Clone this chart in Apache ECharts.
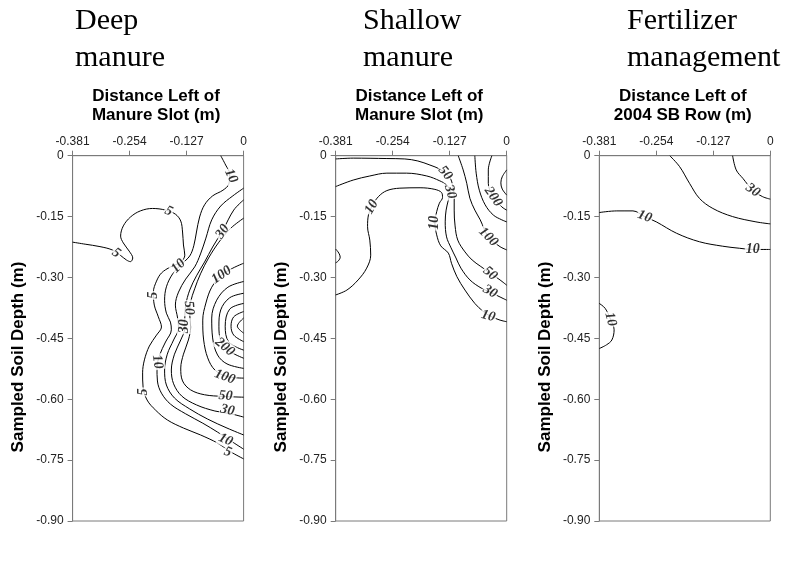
<!DOCTYPE html>
<html>
<head>
<meta charset="utf-8">
<script src="https://cdn.jsdelivr.net/npm/echarts@6/dist/echarts.min.js"></script>
<style>
html, body { margin: 0; padding: 0; background: #fff; }
#chart { width: 793px; height: 567px; }
</style>
</head>
<body>
<div id="chart"></div>
<script>
// axis ticks (m)
const xTicks = [-0.381, -0.254, -0.127, 0];
const yTicks = [0, -0.15, -0.30, -0.45, -0.60, -0.75, -0.90];

// Deep manure contours [distance, depth]
const deep5 = [[-0.381,-0.213],[-0.353,-0.218],[-0.320,-0.224],[-0.293,-0.232],[-0.275,-0.245],[-0.261,-0.257],[-0.252,-0.261],[-0.247,-0.252],[-0.255,-0.235],[-0.268,-0.215],[-0.274,-0.198],[-0.268,-0.173],[-0.252,-0.151],[-0.230,-0.136],[-0.203,-0.130],[-0.174,-0.134],[-0.152,-0.144],[-0.140,-0.161],[-0.136,-0.188],[-0.134,-0.220],[-0.131,-0.245],[-0.140,-0.262],[-0.163,-0.274],[-0.183,-0.289],[-0.194,-0.309],[-0.201,-0.336],[-0.199,-0.368],[-0.190,-0.397],[-0.183,-0.422],[-0.194,-0.442],[-0.210,-0.469],[-0.221,-0.503],[-0.225,-0.535],[-0.224,-0.570],[-0.215,-0.602],[-0.196,-0.627],[-0.170,-0.651],[-0.134,-0.671],[-0.096,-0.688],[-0.058,-0.708],[-0.028,-0.730],[0,-0.747]];
const deep10 = [[-0.051,0],[-0.040,-0.023],[-0.031,-0.045],[-0.033,-0.070],[-0.046,-0.085],[-0.069,-0.099],[-0.087,-0.121],[-0.098,-0.151],[-0.105,-0.188],[-0.111,-0.222],[-0.120,-0.247],[-0.138,-0.267],[-0.158,-0.291],[-0.172,-0.323],[-0.176,-0.356],[-0.172,-0.388],[-0.163,-0.410],[-0.161,-0.429],[-0.174,-0.459],[-0.187,-0.491],[-0.193,-0.523],[-0.192,-0.555],[-0.183,-0.585],[-0.163,-0.612],[-0.129,-0.636],[-0.091,-0.659],[-0.058,-0.681],[-0.028,-0.703],[0,-0.723]];
const deep20 = [[0,-0.080],[-0.024,-0.099],[-0.051,-0.124],[-0.071,-0.158],[-0.084,-0.203],[-0.096,-0.242],[-0.109,-0.274],[-0.129,-0.304],[-0.145,-0.336],[-0.152,-0.368],[-0.147,-0.400],[-0.145,-0.425],[-0.156,-0.454],[-0.170,-0.489],[-0.176,-0.528],[-0.172,-0.565],[-0.154,-0.597],[-0.120,-0.624],[-0.080,-0.649],[-0.037,-0.671],[0,-0.688]];
const deep30 = [[0,-0.109],[-0.022,-0.134],[-0.046,-0.183],[-0.069,-0.225],[-0.087,-0.262],[-0.105,-0.296],[-0.120,-0.331],[-0.129,-0.368],[-0.131,-0.400],[-0.131,-0.425],[-0.140,-0.454],[-0.154,-0.489],[-0.161,-0.528],[-0.156,-0.562],[-0.138,-0.592],[-0.105,-0.614],[-0.064,-0.629],[-0.028,-0.636],[0,-0.644]];
const deep50 = [[0,-0.154],[-0.028,-0.178],[-0.055,-0.213],[-0.078,-0.252],[-0.096,-0.291],[-0.109,-0.328],[-0.118,-0.360],[-0.120,-0.392],[-0.118,-0.422],[-0.123,-0.454],[-0.134,-0.489],[-0.140,-0.523],[-0.136,-0.555],[-0.118,-0.577],[-0.087,-0.589],[-0.046,-0.593],[0,-0.595]];
const deep100 = [[0,-0.265],[-0.024,-0.277],[-0.049,-0.294],[-0.071,-0.324],[-0.084,-0.363],[-0.091,-0.405],[-0.089,-0.454],[-0.080,-0.498],[-0.064,-0.528],[-0.037,-0.544],[0,-0.548]];
const deep150 = [[0,-0.310],[-0.035,-0.324],[-0.060,-0.356],[-0.071,-0.400],[-0.069,-0.449],[-0.058,-0.491],[-0.037,-0.513],[0,-0.524]];
const deep200 = [[0,-0.339],[-0.031,-0.350],[-0.051,-0.380],[-0.055,-0.420],[-0.051,-0.456],[-0.037,-0.478],[0,-0.499]];
const deep250 = [[0,-0.364],[-0.031,-0.378],[-0.041,-0.420],[-0.033,-0.459],[0,-0.479]];
const deep300 = [[0,-0.384],[-0.022,-0.397],[-0.028,-0.420],[-0.022,-0.442],[0,-0.458]];
const deep350 = [[0,-0.400],[-0.014,-0.420],[0,-0.437]];
const deepLabels = [
  [-0.028,-0.050,'10',-65],[-0.284,-0.240,'5',-35],[-0.167,-0.137,'5',-25],
  [-0.145,-0.272,'10',45],[-0.047,-0.187,'30',55],[-0.049,-0.294,'100',35],
  [-0.201,-0.344,'5',90],[-0.122,-0.375,'50',-85],[-0.133,-0.420,'30',90],
  [-0.192,-0.508,'10',-80],[-0.224,-0.582,'5',90],[-0.042,-0.471,'200',-40],
  [-0.042,-0.545,'100',-20],[-0.040,-0.592,'50',-5],[-0.036,-0.627,'30',-12],
  [-0.040,-0.700,'10',-25],[-0.035,-0.730,'5',-20]
];

// Shallow manure contours
const shallow5 = [[-0.381,-0.230],[-0.374,-0.240],[-0.371,-0.250],[-0.375,-0.259],[-0.381,-0.264]];
const shallow10 = [[-0.381,-0.343],[-0.356,-0.331],[-0.331,-0.306],[-0.312,-0.277],[-0.303,-0.245],[-0.305,-0.208],[-0.310,-0.175],[-0.308,-0.146],[-0.300,-0.124],[-0.286,-0.101],[-0.267,-0.086],[-0.238,-0.080],[-0.193,-0.079],[-0.160,-0.083],[-0.145,-0.091],[-0.143,-0.103],[-0.150,-0.117],[-0.156,-0.138],[-0.160,-0.165],[-0.156,-0.195],[-0.147,-0.222],[-0.130,-0.240],[-0.123,-0.265],[-0.111,-0.298],[-0.093,-0.331],[-0.071,-0.364],[-0.052,-0.384],[-0.037,-0.395],[-0.015,-0.405],[0,-0.409]];
const shallow30 = [[-0.381,-0.076],[-0.342,-0.060],[-0.305,-0.050],[-0.267,-0.043],[-0.223,-0.043],[-0.178,-0.050],[-0.149,-0.062],[-0.134,-0.072],[-0.126,-0.089],[-0.130,-0.109],[-0.135,-0.134],[-0.137,-0.163],[-0.134,-0.200],[-0.124,-0.227],[-0.113,-0.252],[-0.102,-0.277],[-0.082,-0.306],[-0.057,-0.326],[-0.037,-0.336],[-0.015,-0.348],[0,-0.356]];
const shallow50 = [[-0.381,-0.008],[-0.342,-0.006],[-0.267,-0.007],[-0.227,-0.008],[-0.198,-0.013],[-0.171,-0.023],[-0.149,-0.033],[-0.137,-0.043],[-0.126,-0.055],[-0.120,-0.075],[-0.117,-0.099],[-0.117,-0.134],[-0.115,-0.173],[-0.109,-0.208],[-0.093,-0.237],[-0.077,-0.257],[-0.059,-0.272],[-0.037,-0.289],[-0.015,-0.306],[0,-0.319]];
const shallow100 = [[-0.108,0],[-0.097,-0.035],[-0.089,-0.068],[-0.082,-0.105],[-0.071,-0.134],[-0.059,-0.158],[-0.041,-0.200],[-0.015,-0.224],[0,-0.232]];
const shallow150 = [[-0.071,0],[-0.068,-0.043],[-0.061,-0.085],[-0.048,-0.121],[-0.030,-0.146],[-0.011,-0.158],[0,-0.163]];
const shallow200 = [[-0.033,0],[-0.041,-0.035],[-0.041,-0.068],[-0.030,-0.101],[-0.011,-0.126],[0,-0.134]];
const shallow300 = [[0,-0.035],[-0.010,-0.052],[-0.013,-0.067],[-0.010,-0.082],[0,-0.097]];
const shallowLabels = [
  [-0.137,-0.043,'50',-50],[-0.126,-0.089,'30',-75],[-0.301,-0.126,'10',60],
  [-0.160,-0.165,'10',90],[-0.030,-0.101,'200',-55],[-0.041,-0.200,'100',-45],
  [-0.037,-0.290,'50',-40],[-0.037,-0.335,'30',-30],[-0.041,-0.395,'10',-15]
];

// Fertilizer management contours
const fert30 = [[-0.084,0],[-0.076,-0.035],[-0.061,-0.056],[-0.039,-0.085],[-0.017,-0.101],[0,-0.107]];
const fert20 = [[-0.224,0],[-0.202,-0.027],[-0.180,-0.068],[-0.158,-0.105],[-0.128,-0.130],[-0.084,-0.150],[-0.032,-0.163],[0,-0.168]];
const fert10 = [[-0.381,-0.140],[-0.342,-0.136],[-0.306,-0.136],[-0.280,-0.150],[-0.254,-0.163],[-0.209,-0.191],[-0.158,-0.212],[-0.106,-0.223],[-0.069,-0.228],[-0.039,-0.231],[0,-0.231]];
const fert10b = [[-0.381,-0.364],[-0.368,-0.376],[-0.356,-0.403],[-0.348,-0.429],[-0.353,-0.454],[-0.365,-0.466],[-0.381,-0.475]];
const fertLabels = [
  [-0.039,-0.085,'30',-35],[-0.280,-0.150,'10',-20],[-0.039,-0.232,'10',0],[-0.356,-0.403,'10',-75]
];

const panels = [
  { title: ['Deep', 'manure'], titleX: 75, axisName: ['Distance Left of', 'Manure Slot (m)'],
    lines: [deep5, deep10, deep20, deep30, deep50, deep100, deep150, deep200, deep250, deep300, deep350], labels: deepLabels },
  { title: ['Shallow', 'manure'], titleX: 363, axisName: ['Distance Left of', 'Manure Slot (m)'],
    lines: [shallow5, shallow10, shallow30, shallow50, shallow100, shallow150, shallow200, shallow300], labels: shallowLabels },
  { title: ['Fertilizer', 'management'], titleX: 627, axisName: ['Distance Left of', '2004 SB Row (m)'],
    lines: [fert30, fert20, fert10, fert10b], labels: fertLabels }
];

const gridLefts = [72.6, 335.7, 599.3];
const gridWidth = 171;
const gridTop = 155.7;
const gridHeight = 365.3;
const axisGray = '#7a7a7a';
const sans = 'Liberation Sans, Arial, sans-serif';
const serif = 'Liberation Serif, Times New Roman, serif';

const chart = echarts.init(document.getElementById('chart'));

const grid = [], xAxis = [], yAxis = [], series = [], graphic = [];
panels.forEach((p, i) => {
  grid.push({ left: gridLefts[i], top: gridTop, width: gridWidth, height: gridHeight,
    show: true, borderColor: axisGray, borderWidth: 1, backgroundColor: '#fff' });
  xAxis.push({
    gridIndex: i, type: 'value', position: 'top',
    min: xTicks[0], max: xTicks[xTicks.length - 1],
    interval: +(xTicks[1] - xTicks[0]).toFixed(3),
    axisLine: { show: true, onZero: false, lineStyle: { color: axisGray, width: 1 } },
    axisTick: { show: true, inside: false, length: 5, lineStyle: { color: axisGray } },
    splitLine: { show: false },
    axisLabel: { margin: 8, fontFamily: sans, fontSize: 12, color: '#222',
      showMinLabel: true, showMaxLabel: true,
      formatter: v => (Math.abs(v) < 1e-9 ? '0' : v.toFixed(3)) }
  });
  yAxis.push({
    gridIndex: i, type: 'value',
    min: yTicks[yTicks.length - 1], max: yTicks[0],
    interval: +(yTicks[0] - yTicks[1]).toFixed(2),
    axisLine: { show: true, onZero: false, lineStyle: { color: axisGray, width: 1 } },
    axisTick: { show: true, inside: false, length: 5, lineStyle: { color: axisGray } },
    splitLine: { show: false },
    axisLabel: { margin: 9, fontFamily: sans, fontSize: 12, color: '#222',
      formatter: v => (Math.abs(v) < 1e-9 ? '0' : v.toFixed(2)) }
  });
  p.lines.forEach(line => {
    series.push({
      type: 'line', xAxisIndex: i, yAxisIndex: i, data: line,
      smooth: 0.35, symbol: 'none', silent: true, z: 2, clip: true,
      lineStyle: { color: '#000', width: 1 }
    });
  });
  series.push({
    type: 'scatter', xAxisIndex: i, yAxisIndex: i, symbolSize: 1, z: 5, silent: true,
    itemStyle: { color: 'rgba(0,0,0,0)' },
    data: p.labels.map(l => ({ value: [l[0], l[1]], name: l[2], label: { rotate: l[3] } })),
    label: { show: true, position: 'inside', formatter: '{b}', fontFamily: serif,
      fontWeight: 'bold', fontStyle: 'italic', fontSize: 14, color: '#000',
      backgroundColor: '#fff', padding: [0, 1] }
  });

  const cx = gridLefts[i] + gridWidth / 2 - 2;
  graphic.push(
    { type: 'text', x: p.titleX, y: 21, style: { text: p.title[0], font: '30px ' + serif, fill: '#000', verticalAlign: 'middle' } },
    { type: 'text', x: p.titleX, y: 58, style: { text: p.title[1], font: '30px ' + serif, fill: '#000', verticalAlign: 'middle' } },
    { type: 'text', x: cx, y: 96.5, style: { text: p.axisName[0], font: 'bold 17px ' + sans, fill: '#000', align: 'center', verticalAlign: 'middle' } },
    { type: 'text', x: cx, y: 115.5, style: { text: p.axisName[1], font: 'bold 17px ' + sans, fill: '#000', align: 'center', verticalAlign: 'middle' } },
    { type: 'text', x: gridLefts[i] - 54, y: 357, rotation: Math.PI / 2,
      style: { text: 'Sampled Soil Depth (m)', font: 'bold 17px ' + sans, fill: '#000', align: 'center', verticalAlign: 'middle' } }
  );
});

chart.setOption({
  animation: false,
  backgroundColor: '#fff',
  grid, xAxis, yAxis, series, graphic
});
</script>
</body>
</html>
